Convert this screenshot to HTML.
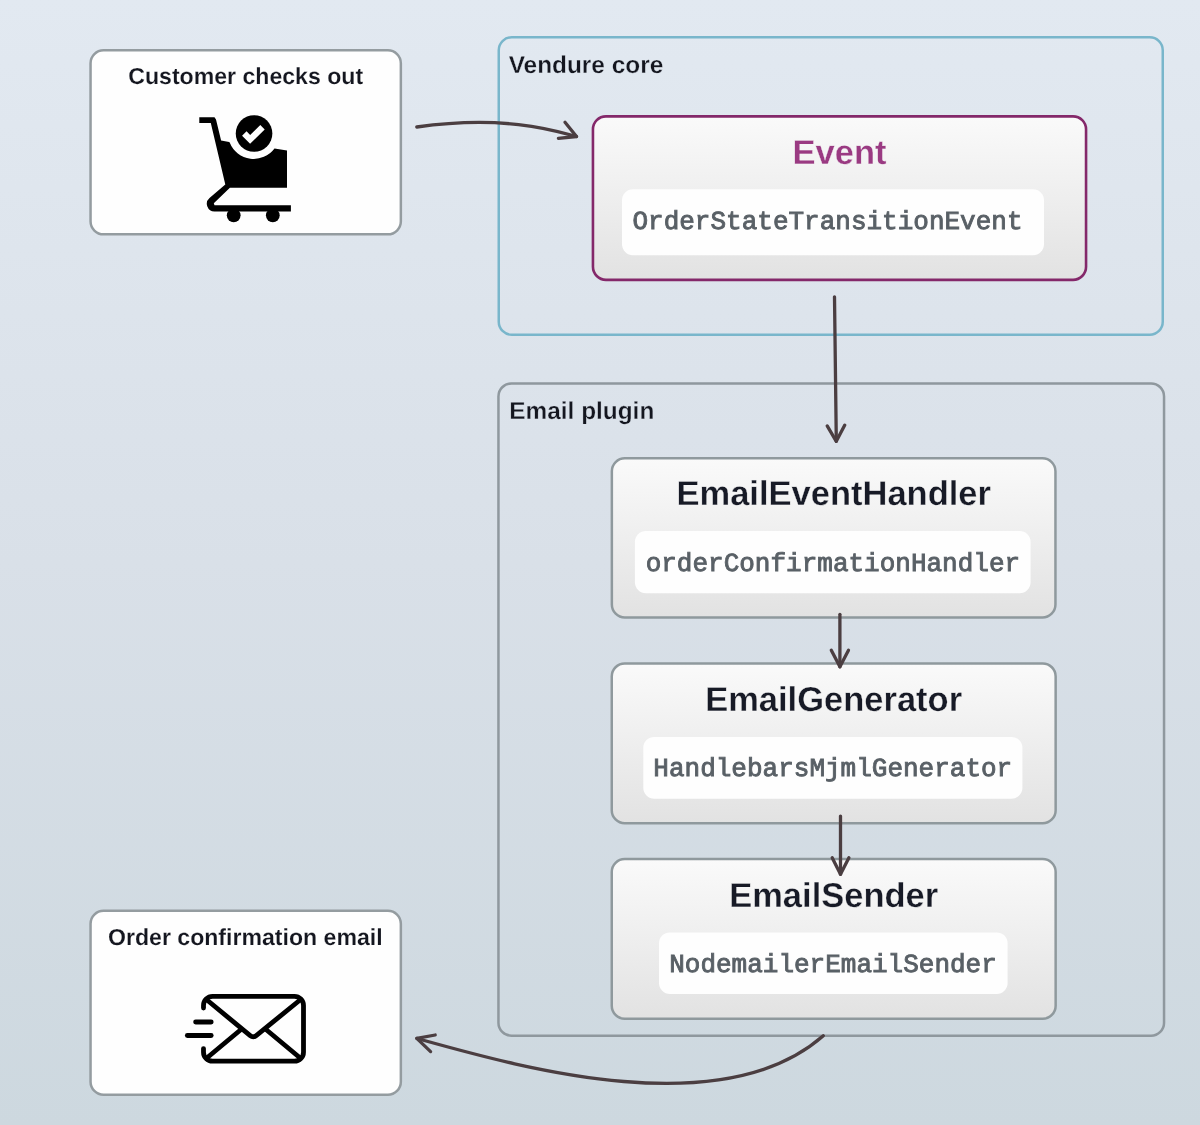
<!DOCTYPE html>
<html><head><meta charset="utf-8">
<style>
html,body{margin:0;padding:0;width:1200px;height:1125px;overflow:hidden;}
body{background:linear-gradient(to bottom,#e2e9f1 0%,#d9e0e8 50%,#cdd8df 100%);}
svg{position:absolute;left:0;top:0;display:block;will-change:transform;text-rendering:geometricPrecision;}
.sans{font-family:"Liberation Sans",sans-serif;font-weight:normal;}
.bd{font-weight:bold;fill:#14161f;}
.tb{font-weight:bold;fill:#171a26;stroke:#f4f4f4;stroke-width:0.3px;}
.tb.ev{fill:#9a3a82;}
.mono{font-family:"Liberation Mono",monospace;font-weight:normal;stroke:#596066;stroke-width:0.9px;}
</style></head>
<body>
<svg width="1200" height="1125" viewBox="0 0 1200 1125">
<defs>
<linearGradient id="card" x1="0" y1="0" x2="0" y2="1">
<stop offset="0" stop-color="#fafafa"/><stop offset="1" stop-color="#e2e2e2"/>
</linearGradient>
</defs>

<!-- containers -->
<rect x="498.75" y="37.25" width="664" height="297.5" rx="13" fill="none" stroke="#79b6cb" stroke-width="2.5"/>
<rect x="498.45" y="383.45" width="665.6" height="652.2" rx="13" fill="none" stroke="#8f989e" stroke-width="2.5"/>

<!-- white boxes -->
<rect x="90.55" y="50.25" width="310.3" height="184.1" rx="13" fill="#fefefe" stroke="#949ca0" stroke-width="2.5"/>
<rect x="90.55" y="910.85" width="310.3" height="183.8" rx="13" fill="#fefefe" stroke="#949ca0" stroke-width="2.5"/>

<!-- event box -->
<rect x="592.95" y="116.35" width="493.1" height="163.5" rx="13" fill="url(#card)" stroke="#84286a" stroke-width="2.6"/>
<rect x="622" y="189.3" width="422" height="66" rx="11" fill="#fefefe"/>

<!-- plugin cards -->
<rect x="611.85" y="458.35" width="443.6" height="159.1" rx="13" fill="url(#card)" stroke="#8f999d" stroke-width="2.5"/>
<rect x="634.9" y="531" width="395.7" height="62.3" rx="11" fill="#fefefe"/>
<rect x="611.75" y="663.45" width="443.9" height="159.7" rx="13" fill="url(#card)" stroke="#8f999d" stroke-width="2.5"/>
<rect x="643.3" y="736.9" width="379.1" height="61.9" rx="11" fill="#fefefe"/>
<rect x="611.75" y="859.05" width="443.9" height="159.7" rx="13" fill="url(#card)" stroke="#8f999d" stroke-width="2.5"/>
<rect x="659" y="932.4" width="348.6" height="61.5" rx="11" fill="#fefefe"/>

<!-- labels -->
<text class="sans bd" x="245.7" y="84.4" font-size="23.1" text-anchor="middle" stroke="#fefefe" stroke-width="0.15">Customer checks out</text>
<text class="sans bd" x="245.3" y="944.8" font-size="23.1" text-anchor="middle" stroke="#fefefe" stroke-width="0.15">Order confirmation email</text>
<text class="sans bd" x="508.7" y="72.8" font-size="24.4" stroke="#e1e8f0" stroke-width="0.3">Vendure core</text>
<text class="sans bd" x="509.3" y="418.8" font-size="24.4" stroke="#dce3eb" stroke-width="0.3">Email plugin</text>

<text class="sans tb ev" x="839.5" y="163.5" font-size="34.5" text-anchor="middle">Event</text>
<text class="sans tb" x="833.7" y="505.2" font-size="34.5" text-anchor="middle">EmailEventHandler</text>
<text class="sans tb" x="833.6" y="711.2" font-size="34.5" text-anchor="middle">EmailGenerator</text>
<text class="sans tb" x="833.7" y="906.7" font-size="34.5" text-anchor="middle">EmailSender</text>

<text class="mono" x="827.5" y="229.1" font-size="26" text-anchor="middle" fill="#596066">OrderStateTransitionEvent</text>
<text class="mono" x="832.9" y="571.4" font-size="26" text-anchor="middle" fill="#596066">orderConfirmationHandler</text>
<text class="mono" x="832.8" y="776.3" font-size="26" text-anchor="middle" fill="#596066">HandlebarsMjmlGenerator</text>
<text class="mono" x="833" y="971.8" font-size="26" text-anchor="middle" fill="#596066">NodemailerEmailSender</text>

<!-- arrows -->
<g fill="none" stroke="#4b3e41" stroke-width="3.3" stroke-linecap="round" stroke-linejoin="round">
<path d="M416.8,127 C506.4,114.5 557.6,131.3 576.5,136.5"/>
<path d="M565,122.2 L576.5,136.5 L558.4,138.3"/>
<path d="M834.5,296.8 L836.3,441.3"/>
<path d="M827.2,425.9 L836.3,441.3 L844.8,425.1"/>
<path d="M839.9,614.3 L839.9,666.8"/>
<path d="M831.3,650.3 L839.9,666.8 L848.5,650.3"/>
<path d="M840.5,816.1 L840.5,874.3"/>
<path d="M832.2,857.8 L840.5,874.3 L848.9,857.8"/>
<path d="M823.3,1035.8 C721.1,1125.5 516,1065.9 416.8,1038.4"/>
<path d="M435.2,1035 L416.8,1038.4 L430.6,1051.6"/>
</g>

<!-- cart icon -->
<g fill="#000">
<!-- handle bar -->
<path d="M199.3,117.2 L214.5,117.2 L216,119.5 L221.1,140.4 L229.1,142 L229.7,142.5 A25.8,25.8 0 0 0 274.5,148.4 L287,150.5 L287,187.7 L229.9,187.7 L213.8,203.3 L214.5,205.2 L290.9,205.2 L290.9,211.6 L214.5,211.6 A7.7,7.7 0 0 1 209.5,198.1 L225.3,184.5 L210.8,123.1 L199.3,123.1 Z"/>
<circle cx="254.05" cy="133.5" r="18.3"/>
<circle cx="233.7" cy="215.3" r="6.9"/>
<circle cx="272.8" cy="215.3" r="6.9"/>
</g>
<polyline points="244.3,133.6 250.1,139.4 262.5,127.2" fill="none" stroke="#fff" stroke-width="6.3" stroke-linejoin="miter"/>

<!-- envelope icon -->
<g fill="none" stroke="#000" stroke-width="4.8" stroke-linecap="round" stroke-linejoin="round">
<path d="M203.5,1008 L203.5,1005.4 A9,9 0 0 1 212.5,996.4 L294.5,996.4 A9,9 0 0 1 303.5,1005.4 L303.5,1052.2 A9,9 0 0 1 294.5,1061.2 L212.5,1061.2 A9,9 0 0 1 203.5,1052.2 L203.5,1048.6"/>
<path d="M207,1000 L250.2,1035.6 Q253.2,1038 256.2,1035.6 L300,1000"/>
<path d="M206.8,1058 L241,1029.5"/>
<path d="M300.2,1058 L266,1029.5"/>
<path d="M195.6,1022 L211.2,1022"/>
<path d="M187.3,1035.5 L211.2,1035.5"/>
</g>
</svg>
</body></html>
